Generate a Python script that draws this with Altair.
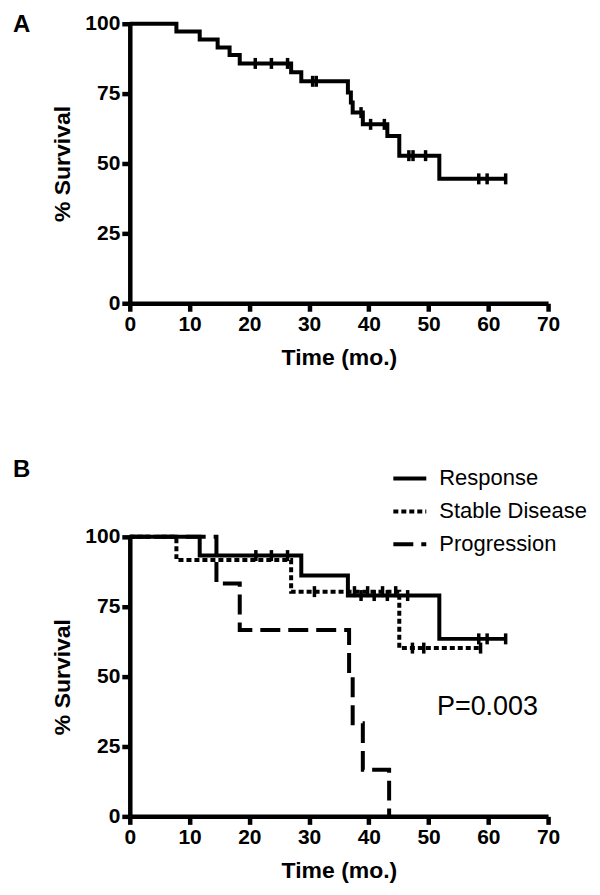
import altair as alt
import pandas as pd

FONT = "Liberation Sans"

# ---------- Panel A : overall survival ----------
a_time = [0, 7.8, 11.7, 14.7, 16.7, 18.4, 27.0, 28.7, 36.5, 37.0, 37.3, 39.0, 43.1, 45.1, 51.8, 62.9]
a_surv = [100, 97.2, 94.4, 91.5, 88.8, 85.8, 82.6, 79.4, 75.4, 71.8, 68.2, 64.0, 59.8, 52.8, 44.5, 44.5]
a_cens_time = [21.0, 23.7, 26.4, 30.6, 31.2, 38.7, 40.3, 42.6, 46.7, 47.4, 49.5, 58.4, 59.8, 62.9]
a_cens_surv = [85.8, 85.8, 85.8, 79.4, 79.4, 68.2, 64.0, 64.0, 52.8, 52.8, 52.8, 44.5, 44.5, 44.5]

# ---------- Panel B : by response group ----------
groups = ["Response", "Stable Disease", "Progression"]
resp_time = [0, 11.7, 28.7, 36.5, 51.8, 62.9]
resp_surv = [100, 93.3, 86.2, 79.0, 63.5, 63.5]
resp_cens_time = [21.1, 23.7, 26.4, 38.7, 40.9, 43.1, 46.5, 58.4, 59.8, 62.9]
resp_cens_surv = [93.3, 93.3, 93.3, 79.0, 79.0, 79.0, 79.0, 63.5, 63.5, 63.5]
stab_time = [0, 7.8, 27.0, 45.1, 58.7]
stab_surv = [100, 91.7, 80.4, 60.2, 60.2]
stab_cens_time = [30.9, 37.6, 39.8, 42.3, 44.5, 47.3, 49.2, 58.7]
stab_cens_surv = [80.4, 80.4, 80.4, 80.4, 80.4, 60.2, 60.2, 60.2]
prog_time = [0, 14.5, 18.4, 36.7, 37.3, 39.0, 43.4]
prog_surv = [100, 83.3, 66.7, 50.0, 33.3, 16.7, 0]

p_label = ["P=0.003"]
p_time = [51.4]
p_surv = [39.0]

x_ticks = [0, 10, 20, 30, 40, 50, 60, 70]
y_ticks = [0, 25, 50, 75, 100]

# ---------- data frames ----------
df_a = pd.DataFrame({"t": a_time, "s": a_surv})
df_a_c = pd.DataFrame({"t": a_cens_time, "s": a_cens_surv})

df_b = pd.concat([
    pd.DataFrame({"t": resp_time, "s": resp_surv, "g": groups[0]}),
    pd.DataFrame({"t": stab_time, "s": stab_surv, "g": groups[1]}),
    pd.DataFrame({"t": prog_time, "s": prog_surv, "g": groups[2]}),
], ignore_index=True)
df_b_c = pd.concat([
    pd.DataFrame({"t": resp_cens_time, "s": resp_cens_surv, "g": groups[0]}),
    pd.DataFrame({"t": stab_cens_time, "s": stab_cens_surv, "g": groups[1]}),
], ignore_index=True)
df_p = pd.DataFrame({"t": p_time, "s": p_surv, "label": p_label})

x_scale = alt.Scale(domain=[0, 70], nice=False, zero=False)
y_scale = alt.Scale(domain=[0, 100], nice=False, zero=False)
x_enc = alt.X("t:Q", scale=x_scale, axis=alt.Axis(values=x_ticks, title="Time (mo.)"))
y_enc = alt.Y("s:Q", scale=y_scale, axis=alt.Axis(values=y_ticks, title="% Survival"))

W, H = 419, 280


def panel_title(letter, offset):
    return alt.TitleParams(letter, anchor="start", frame="group", fontSize=24,
                           fontWeight="bold", font=FONT, color="black",
                           dx=-117, offset=offset)


line_a = alt.Chart(df_a).mark_line(
    interpolate="step-after", color="black", strokeWidth=4, strokeJoin="miter"
).encode(x=x_enc, y=y_enc)
ticks_a = alt.Chart(df_a_c).mark_tick(
    orient="vertical", color="black", thickness=3.5, size=11, opacity=1
).encode(x="t:Q", y="s:Q")

panel_a = alt.layer(line_a, ticks_a).properties(width=W, height=H, title=panel_title("A", -24))

line_b = alt.Chart(df_b).mark_line(
    interpolate="step-after", color="black", strokeWidth=4, strokeJoin="miter"
).encode(
    x=x_enc, y=y_enc,
    strokeDash=alt.StrokeDash(
        "g:N",
        scale=alt.Scale(domain=groups, range=[[1, 0], [5, 3], [20, 8]]),
        legend=alt.Legend(
            orient="none", legendX=262, legendY=-77, title=None,
            symbolType="stroke", symbolSize=1089, symbolStrokeWidth=4,
            symbolStrokeColor="black", labelFontSize=22, labelFont=FONT,
            labelColor="black", labelOffset=11, rowPadding=3,
        ),
    ),
    detail="g:N",
)
ticks_b = alt.Chart(df_b_c).mark_tick(
    orient="vertical", color="black", thickness=3.5, size=11, opacity=1
).encode(x="t:Q", y="s:Q")
p_text = alt.Chart(df_p).mark_text(
    align="left", baseline="middle", fontSize=27, font=FONT, color="black"
).encode(x="t:Q", y="s:Q", text="label:N")

panel_b = alt.layer(line_b, ticks_b, p_text).properties(width=W, height=H, title=panel_title("B", -22))

chart = alt.vconcat(panel_a, panel_b, spacing=89).resolve_legend(
    strokeDash="independent"
).properties(
    padding={"left": 5, "top": 4, "right": 5, "bottom": 5}
).configure_view(stroke=None).configure_axis(
    domainColor="black", domainWidth=4.5, tickColor="black", tickWidth=4.5, tickSize=8,
    labelFont=FONT, labelFontSize=21, labelFontWeight="bold", labelColor="black",
    labelPadding=2, labelFlush=False, titleFont=FONT, titleFontSize=23,
    titleFontWeight="bold", titleColor="black", grid=False,
).configure_axisX(titlePadding=12).configure_axisY(titlePadding=10)

chart.save("out.html", embed_options={"renderer": "svg", "actions": False})
